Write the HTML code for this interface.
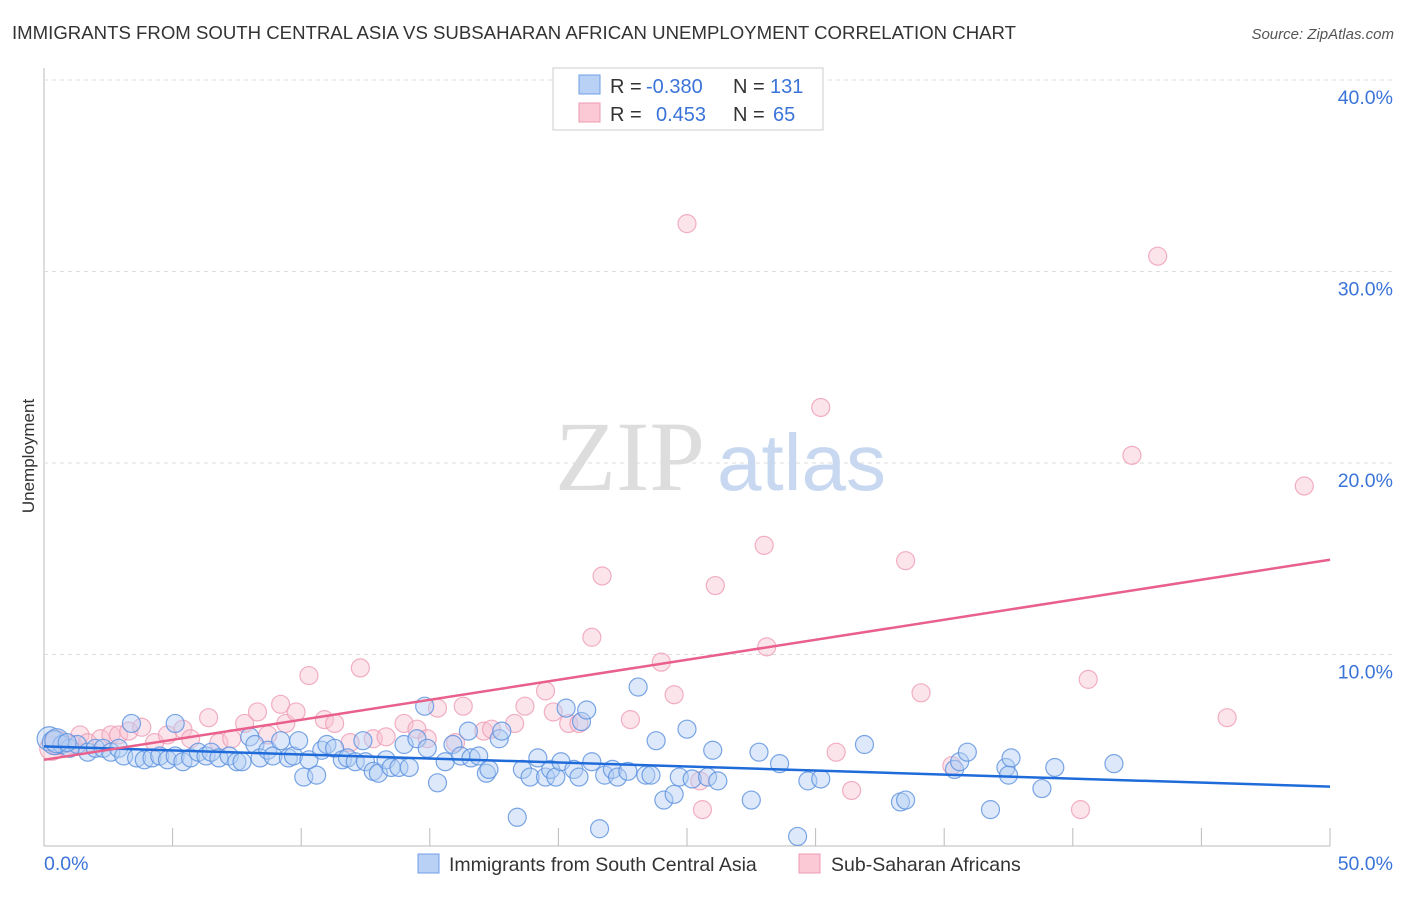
<!DOCTYPE html>
<html><head><meta charset="utf-8"><style>
body{margin:0;background:#fff;font-family:"Liberation Sans",sans-serif}
</style></head><body>
<svg id="chart" width="1406" height="892" xmlns="http://www.w3.org/2000/svg" font-family="Liberation Sans, sans-serif">
<text x="12" y="39" font-size="18.6" fill="#333" textLength="1004">IMMIGRANTS FROM SOUTH CENTRAL ASIA VS SUBSAHARAN AFRICAN UNEMPLOYMENT CORRELATION CHART</text>
<text x="1394" y="39" font-size="15" fill="#555" font-style="italic" text-anchor="end">Source: ZipAtlas.com</text>
<g id="grid"></g>
<text x="555" y="490" font-size="100" fill="#ddd" font-family="Liberation Serif, serif">ZIP</text>
<text x="717" y="490" font-size="80" fill="#c7d8f0">atlas</text>
<g id="marks"></g>
<text transform="translate(34,456) rotate(-90)" font-size="17" fill="#333" text-anchor="middle">Unemployment</text>
<g font-size="20">
<rect x="553" y="68" width="270" height="62" fill="#fff" stroke="#ccc"/>
<rect x="579" y="75" width="21" height="19" fill="#b9d1f4" stroke="#6f9fe6"/>
<rect x="579" y="103" width="21" height="19" fill="#fbc9d6" stroke="#ef9ab3"/>
<text x="610" y="93" fill="#333">R =</text><text x="646" y="93" fill="#3b74d8">-0.380</text>
<text x="733" y="93" fill="#333">N =</text><text x="770" y="93" fill="#3b74d8">131</text>
<text x="610" y="121" fill="#333">R =</text><text x="656" y="121" fill="#3b74d8">0.453</text>
<text x="733" y="121" fill="#333">N =</text><text x="773" y="121" fill="#3b74d8">65</text>
</g>
<g>
<rect x="418" y="854" width="21" height="19" fill="#b9d1f4" stroke="#6f9fe6"/>
<text x="449" y="871" font-size="19.5" fill="#333">Immigrants from South Central Asia</text>
<rect x="799" y="854" width="21" height="19" fill="#fbc9d6" stroke="#ef9ab3"/>
<text x="831" y="871" font-size="19.5" fill="#333">Sub-Saharan Africans</text>
</g>
</svg>
<script>
const xTicks=[0,5,10,15,20,25,30,35,40,45,50];
const yTicks=[10,20,30,40];
const xLabels=["0.0%","50.0%"];
const blueX=[0.2,0.4,0.7,1.0,1.3,1.7,2.0,2.3,2.6,2.9,3.1,3.4,3.6,3.9,4.2,4.5,4.8,5.1,5.4,5.7,6.0,6.3,6.5,6.8,7.2,7.5,7.7,8.0,8.2,8.4,8.7,8.9,9.2,9.5,9.7,9.9,10.1,10.3,10.6,10.8,11.0,11.3,11.6,11.8,12.1,12.4,12.5,12.8,13.0,13.3,13.5,13.8,14.0,14.2,14.5,14.8,14.9,15.3,15.6,15.9,16.2,16.5,16.6,16.9,17.2,17.3,17.7,17.8,18.4,18.6,18.9,19.2,19.5,19.7,19.9,20.1,20.3,20.6,20.8,20.9,21.1,21.3,21.6,21.8,22.1,22.3,22.7,23.1,23.4,23.6,23.8,24.1,24.5,24.7,25.0,25.2,25.8,26.0,26.2,27.5,27.8,28.6,29.3,29.7,30.2,31.9,33.3,33.5,35.4,35.6,35.9,36.8,37.4,37.5,37.6,38.8,39.3,41.6,5.1,0.5,0.9];
const blueY=[5.6,5.4,5.3,5.1,5.3,4.9,5.1,5.1,4.9,5.1,4.7,6.4,4.6,4.5,4.6,4.7,4.5,4.7,4.4,4.6,4.9,4.7,4.9,4.6,4.7,4.4,4.4,5.7,5.3,4.6,5.0,4.7,5.5,4.6,4.7,5.5,3.6,4.5,3.7,5.0,5.3,5.1,4.5,4.6,4.4,5.5,4.4,3.9,3.8,4.5,4.1,4.1,5.3,4.1,5.6,7.3,5.1,3.3,4.4,5.3,4.7,6.0,4.6,4.7,3.8,4.0,5.6,6.0,1.5,4.0,3.6,4.6,3.6,4.0,3.6,4.4,7.2,4.0,3.6,6.5,7.1,4.4,0.9,3.7,4.0,3.6,3.9,8.3,3.7,3.7,5.5,2.4,2.7,3.6,6.1,3.5,3.6,5.0,3.4,2.4,4.9,4.3,0.5,3.4,3.5,5.3,2.3,2.4,4.0,4.4,4.9,1.9,4.1,3.7,4.6,3.0,4.1,4.3,6.4,5.5,5.4];
const pinkX=[0.3,0.5,0.9,1.1,1.4,1.7,2.2,2.6,2.9,3.3,3.8,4.3,4.8,5.4,5.7,6.4,6.8,7.3,7.8,8.3,8.7,9.2,9.4,9.8,10.3,10.9,11.3,11.9,12.3,12.8,13.3,14.0,14.5,14.9,15.3,16.0,16.3,17.1,17.4,18.3,18.7,19.5,19.8,20.4,20.8,21.3,21.7,22.8,24.0,24.5,25.0,25.5,25.6,26.1,28.0,28.1,30.2,30.8,31.4,33.5,34.1,35.3,40.3,40.6,42.3,43.3,46.0,49.0];
const pinkY=[5.1,5.4,5.1,5.3,5.8,5.4,5.6,5.8,5.8,6.0,6.2,5.4,5.8,6.1,5.6,6.7,5.4,5.6,6.4,7.0,5.8,7.4,6.4,7.0,8.9,6.6,6.4,5.4,9.3,5.6,5.7,6.4,6.1,5.6,7.2,5.4,7.3,6.0,6.1,6.4,7.3,8.1,7.0,6.4,6.4,10.9,14.1,6.6,9.6,7.9,32.5,3.4,1.9,13.6,15.7,10.4,22.9,4.9,2.9,14.9,8.0,4.2,1.9,8.7,20.4,30.8,6.7,18.8];
const blueTrend=[-0.2,5.2,50,3.1];
const pinkTrend=[-0.2,4.5,50,14.95];

const NS="http://www.w3.org/2000/svg";
const X0=44,X1=1330,Y0=846,PXY=19.15;
const xs=v=>X0+v*(X1-X0)/50;
const ys=v=>Y0-v*PXY;
const grid=document.getElementById('grid'),marks=document.getElementById('marks');
function mk(p,tag,attrs){const e=document.createElementNS(NS,tag);for(const k in attrs)e.setAttribute(k,attrs[k]);p.appendChild(e);return e;}
const ax=mk(grid,'line',{x1:X0,y1:68,x2:X0,y2:Y0,stroke:'#bbb'});


const bx=mk(grid,'line',{x1:X0,y1:Y0,x2:X1,y2:Y0,stroke:'#bbb'});


xTicks.forEach((t,i)=>{if(i===0)return;const l=mk(grid,'line',{x1:xs(t),y1:Y0-18,x2:xs(t),y2:Y0,stroke:'#bbb'});

});
yTicks.forEach(t=>{const l=mk(grid,'line',{x1:X0,y1:ys(t),x2:1394,y2:ys(t),stroke:'#ddd','stroke-dasharray':'4,4'});


const tx=mk(grid,'text',{x:1393,y:ys(t)+24,'font-size':19.5,fill:'#3b74d8','text-anchor':'end'});tx.textContent=t.toFixed(1)+'%';

});
const xl0=mk(grid,'text',{x:44,y:870,'font-size':19.5,fill:'#3b74d8'});xl0.textContent=xLabels[0];


const xl1=mk(grid,'text',{x:1393,y:870,'font-size':19.5,fill:'#3b74d8','text-anchor':'end'});xl1.textContent=xLabels[1];


function pts(X,Y,fill,stroke,name){X.forEach((x,i)=>{const c=mk(marks,'circle',{cx:xs(x),cy:ys(Y[i]),r:(x<0.6?12:9),fill:fill,'fill-opacity':0.45,stroke:stroke,'stroke-opacity':0.8,'stroke-width':1.2});

});}
pts(pinkX,pinkY,'#f8c4d3','#ee9cb5','pink-point');
pts(blueX,blueY,'#b3cef4','#5a90de','blue-point');
const bl=mk(marks,'line',{x1:xs(0),y1:ys(blueTrend[1]),x2:xs(blueTrend[2]),y2:ys(blueTrend[3]),stroke:'#1f6bd9','stroke-width':2.5});


const pl=mk(marks,'line',{x1:xs(0),y1:ys(pinkTrend[1]),x2:xs(pinkTrend[2]),y2:ys(pinkTrend[3]),stroke:'#e8608b','stroke-width':2.5});


</script>
</body></html>
